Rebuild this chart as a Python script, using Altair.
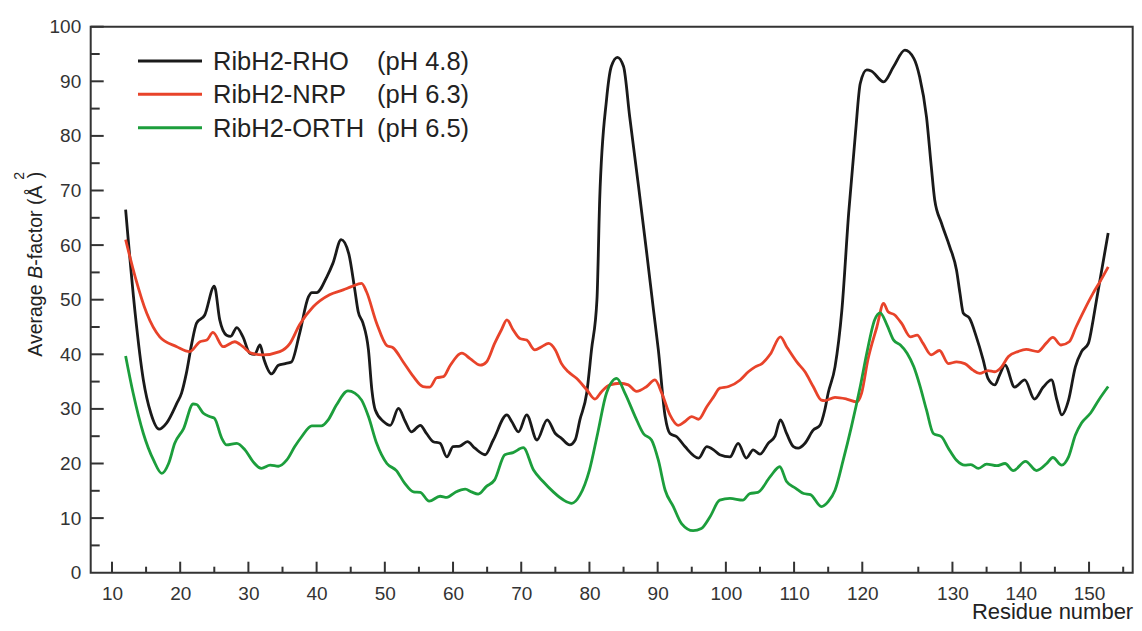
import altair as alt
import pandas as pd

FONT = "Liberation Sans"

series_names = ["RibH2-RHO", "RibH2-NRP", "RibH2-ORTH"]
series_ph = ["(pH 4.8)", "(pH 6.3)", "(pH 6.5)"]
series_colors = ["#1a1a1a", "#e8432a", "#1c9e3c"]

rho_x = [12, 13.4, 14.6, 15.7, 16.9, 18.0, 19.5, 20.2, 20.9, 21.7, 22.4, 23.6, 25.0, 25.8, 26.8,
         27.4, 28.3, 29.2, 30.2, 30.9, 31.7, 32.3, 33.4, 34.4, 35.4, 36.3, 37.5, 38.8, 39.3, 40.0,
         41.5, 42.4, 43.6, 44.7, 45.6, 46.1, 46.8, 47.6, 48.1, 48.6, 49.8, 50.8, 52.0, 53.0, 53.9,
         55.2, 56.1, 57.1, 58.1, 59.1, 60.0, 61.0, 62.1, 63.2, 64.7, 65.9, 67.9, 68.6, 69.6, 70.8,
         72.3, 73.8, 75.0, 75.9, 77.1, 77.9, 78.6, 79.6, 80.3, 81.1, 81.5, 82.5, 83.2, 84.1, 85.0,
         85.9, 87.2, 88.4, 89.4, 90.1, 91.1, 91.8, 92.8, 94.0, 96.0, 97.2, 98.2, 99.1, 100.6, 101.8,
         103.0, 104.0, 105.0, 106.2, 107.2, 108.0, 108.9, 109.9, 110.6, 111.6, 112.8, 113.8, 114.5,
         115.0, 116.0, 117.0, 118.0, 119.0, 119.7, 120.4, 120.8, 121.9, 122.8, 123.8, 124.6, 125.2,
         126.2, 126.9, 127.4, 128.4, 129.6, 130.6, 131.1, 131.6, 132.5, 133.5, 134.5, 135.2, 136.2,
         136.9, 137.7, 139.1, 140.6, 142.0, 143.3, 144.5, 145.3, 146.0, 147.0, 148.0, 148.9, 149.9,
         150.6, 151.1, 152.8]
rho_y = [66.5, 47.5, 35.3, 29.2, 26.3, 27.4, 31.0, 32.9, 36.5, 42.0, 45.7, 47.2, 52.5, 46.3, 43.5,
         43.3, 44.9, 43.2, 40.2, 40.0, 41.7, 39.0, 36.4, 38.0, 38.3, 38.6, 43.8, 50.5, 51.3, 51.3,
         54.2, 56.7, 61.0, 58.5, 51.8, 47.8, 45.7, 40.8, 33.5, 29.8, 27.7, 27.0, 30.1, 27.7, 25.8,
         27.0, 25.5, 24.0, 23.7, 21.2, 23.1, 23.2, 24.0, 22.8, 21.6, 24.3, 28.9, 27.7, 25.8, 28.9,
         24.3, 28.0, 25.5, 24.6, 23.4, 24.3, 28.0, 32.9, 40.8, 50.0, 68.3, 86.6, 92.7, 94.4, 92.7,
         83.5, 70.7, 58.5, 48.0, 40.8, 28.6, 25.5, 24.9, 23.1, 21.0, 23.1, 22.5, 21.6, 21.2, 23.7,
         21.0, 22.5, 21.7, 23.7, 25.0, 28.0, 25.5, 23.1, 22.8, 23.7, 26.1, 27.0, 29.8,
         32.9, 37.7, 48.0, 65.8, 80.5, 89.6, 92.1, 91.9, 89.9, 92.7, 95.7, 94.2, 90.8,
         83.5, 74.4, 68.3, 64.0, 59.7, 55.4, 51.2, 47.5, 46.6, 43.2, 39.0, 35.6, 34.4,
         36.2, 38.0, 34.0, 35.3, 31.8, 34.0, 35.3, 31.6, 28.9, 31.6, 37.7, 40.5, 42.0,
         46.3, 50.0, 62.2]

nrp_x = [12, 13.4, 15.1, 17.0, 19.5, 21.4, 22.9, 23.9, 24.8, 26.3, 28.0, 29.2, 30.4, 32.1, 34.6,
         36.1, 37.5, 39.5, 41.9, 43.9, 45.1, 46.6, 47.3, 48.8, 50.3, 51.2, 52.7, 54.2, 55.6, 56.6,
         57.6, 58.6, 59.6, 61.3, 62.5, 64.0, 64.9, 66.1, 67.1, 67.9, 68.8, 69.8, 70.8, 72.0, 73.0,
         74.0, 75.0, 75.9, 76.9, 78.1, 79.6, 80.8, 81.8, 83.0, 84.5, 85.7, 86.9, 88.4, 89.6, 90.6,
         91.8, 93.0, 94.0, 95.0, 96.0, 97.2, 98.2, 99.1, 100.4, 102.1, 103.3, 104.3, 105.3, 106.5,
         108.0, 108.9, 110.4, 111.6, 112.8, 114.0, 114.5, 116.0, 117.7, 119.2, 119.9, 120.5, 121.3,
         121.9, 122.3, 122.9, 123.5, 124.3, 124.9, 125.7, 126.9, 128.1, 129.4, 130.6, 131.8, 133.0,
         134.0, 135.2, 136.2, 137.2, 138.2, 139.6, 140.8, 142.5, 143.7, 144.7, 145.9, 147.1, 148.1,
         149.3, 150.6, 151.6, 152.8]
nrp_y = [61.0, 54.2, 47.5, 43.2, 41.4, 40.5, 42.3, 42.6, 44.0, 41.4, 42.3, 41.4, 40.2, 39.9, 40.5,
         42.0, 45.4, 48.7, 50.9, 51.8, 52.4, 53.0, 51.5, 45.7, 41.6, 41.2, 38.6, 35.9, 34.1, 34.0,
         35.7, 35.9, 38.0, 40.2, 39.2, 38.0, 38.6, 42.0, 44.5, 46.3, 44.5, 42.9, 42.6, 40.8, 41.4,
         42.0, 40.8, 38.3, 36.8, 35.6, 33.5, 31.8, 33.2, 34.4, 34.7, 34.4, 33.2, 34.1, 35.3, 32.9,
         28.9, 27.0, 27.7, 28.6, 28.1, 30.4, 32.2, 33.8, 34.1, 35.3, 36.8, 37.7, 38.3, 40.0,
         43.2, 41.4, 38.6, 36.8, 34.1, 31.6, 31.5, 32.1, 31.8, 31.3, 32.9, 39.0, 45.0,
         49.3, 47.8, 47.2, 45.7, 43.2, 43.5, 42.0, 39.9, 40.7, 38.3, 38.6, 38.3, 37.1,
         36.5, 37.0, 36.8, 37.7, 39.6, 40.5, 40.9, 40.5, 42.0, 43.1, 41.7, 42.3, 45.0,
         48.1, 51.2, 53.3, 56.0]

orth_x = [12, 13.1, 14.6, 16.1, 17.3, 18.3, 19.2, 20.5, 21.9, 22.4, 23.4, 24.3, 25.0, 26.1, 26.8,
          28.3, 29.5, 30.7, 31.9, 33.2, 34.4, 35.6, 36.8, 37.8, 39.3, 40.7, 41.7, 42.9, 44.6, 45.6,
          46.6, 47.6, 48.8, 50.3, 51.7, 52.9, 54.2, 55.2, 56.5, 58.1, 59.1, 60.3, 61.8, 62.7, 63.7,
          64.9, 66.1, 67.6, 68.8, 70.3, 71.8, 73.2, 74.7, 76.2, 77.4, 78.6, 80.0, 81.2, 82.5, 84.0,
          85.2, 86.7, 87.9, 89.1, 90.1, 91.1, 92.3, 93.5, 95.2, 96.4, 97.7, 99.1, 100.6, 102.5,
          103.5, 104.7, 106.5, 107.9, 108.9, 110.2, 111.4, 112.4, 114.0, 115.0, 116.0, 117.2, 118.4,
          119.7, 120.4, 121.1, 121.6, 122.2, 122.8, 123.4, 124.0, 124.6, 125.2, 126.2, 127.2, 128.4,
          129.4, 130.6, 131.8, 132.7, 133.8, 135.0, 136.5, 137.7, 138.9, 140.7, 142.3, 143.8, 144.7,
          146.0, 147.0, 148.0, 148.9, 150.2, 151.4, 152.8]
orth_y = [39.7, 32.9, 25.5, 20.6, 18.2, 20.0, 23.7, 26.4, 30.9, 30.8, 29.2, 28.6, 28.3, 24.6, 23.4,
          23.7, 22.5, 20.3, 19.1, 19.7, 19.5, 20.6, 23.1, 24.9, 26.9, 26.9, 28.0, 30.7, 33.3, 32.9,
          31.6, 28.6, 23.7, 20.0, 18.7, 16.4, 14.8, 14.7, 13.1, 14.0, 13.8, 14.7, 15.3, 14.8, 14.4,
          15.8, 17.0, 21.6, 22.0, 22.9, 18.8, 16.7, 14.8, 13.3, 12.7, 14.2, 18.8, 25.5, 32.9, 35.6,
          32.9, 28.6, 25.5, 24.3, 20.6, 15.1, 12.1, 9.0, 7.7, 8.1, 10.3, 13.3, 13.6, 13.3,
          14.5, 14.7, 17.6, 19.4, 16.7, 15.5, 14.5, 14.3, 12.1, 13.0, 15.1, 20.6, 26.7,
          34.1, 40.2, 46.3, 47.6, 45.4, 42.6, 41.7, 40.2, 37.7, 34.4, 29.8, 25.5, 24.9,
          22.8, 20.6, 19.7, 19.8, 19.1, 19.9, 19.6, 20.0, 18.7, 20.4, 18.7, 20.0, 21.1,
          19.7, 21.2, 25.2, 27.4, 29.2, 31.6, 34.1]

x_major = list(range(10, 151, 10))
x_minor = list(range(15, 156, 10))
y_major = list(range(10, 101, 10))
y_minor = list(range(5, 96, 10))

frames = []
for name, xs, ys in zip(series_names, [rho_x, nrp_x, orth_x], [rho_y, nrp_y, orth_y]):
    frames.append(pd.DataFrame({"res": xs, "b": ys, "series": name}))
df = pd.concat(frames, ignore_index=True)

W, H = 1042, 546
AX = "#333333"

xscale = alt.Scale(domain=[6.88, 120, 125, 156.39], range=[0, 771.6, 827.6, W], nice=False, zero=False)
yscale = alt.Scale(domain=[0, 100], nice=False, zero=False)

lines = alt.Chart(df).mark_line(interpolate="monotone", strokeWidth=2.8).encode(
    x=alt.X("res:Q", scale=xscale,
            axis=alt.Axis(values=x_major, ticks=False, domain=False, grid=False, title=None,
                          labelFontSize=19, labelPadding=11.5, labelColor=AX, labelFont=FONT)),
    y=alt.Y("b:Q", scale=yscale,
            axis=alt.Axis(values=[0] + y_major, ticks=False, domain=False, grid=False, title=None,
                          labelFontSize=19, labelPadding=10, labelColor=AX, labelFont=FONT)),
    color=alt.Color("series:N", scale=alt.Scale(domain=series_names, range=series_colors), legend=None),
)

def xticks(vals, length):
    return alt.Chart(pd.DataFrame({"res": vals})).mark_rule(color=AX, strokeWidth=2).encode(
        x=alt.X("res:Q", scale=xscale), y=alt.value(H), y2=alt.value(H - length))

def yticks(vals, length):
    return alt.Chart(pd.DataFrame({"b": vals})).mark_rule(color=AX, strokeWidth=2).encode(
        y=alt.Y("b:Q", scale=yscale), x=alt.value(0), x2=alt.value(length))

def text(txt, x, y, size, align="left", baseline="alphabetic", angle=0, italic=False, color="#222222"):
    kw = dict(align=align, baseline=baseline, fontSize=size, font=FONT, color=color)
    if angle:
        kw["angle"] = angle
    if italic:
        kw["fontStyle"] = "italic"
    return alt.Chart(pd.DataFrame({"t": [txt]})).mark_text(**kw).encode(
        text="t:N", x=alt.value(x), y=alt.value(y))

layers = [lines, xticks(x_major, 11), xticks(x_minor, 6), yticks(y_major, 13), yticks(y_minor, 9)]

# legend
row_y = [34.3, 67.6, 101.0]
for name, ph, col, ry in zip(series_names, series_ph, series_colors, row_y):
    layers.append(
        alt.Chart(pd.DataFrame({"series": [name]})).mark_rule(color=col, strokeWidth=3).encode(
            x=alt.value(47.3), x2=alt.value(111.3), y=alt.value(ry)))
    layers.append(text(name, 122.3, ry + 9, 25.5))
    layers.append(text(ph, 286.3, ry + 9, 25.5))

# y title: Average B-factor (Å²)
ty = 19.5
layers += [
    text("Average ", -49, 330, ty, angle=270),
    text("B", -49, 252, ty, angle=270, italic=True),
    text("-factor (Å", -49, 239, ty, angle=270),
    text("2", -67, 153, 14, angle=270),
    text(")", -49, 151.5, ty, angle=270),
]

# x title
layers.append(text("Residue number", W + 0.5, 592.5, 22, align="right"))

chart = alt.layer(*layers).properties(
    width=W, height=H,
    autosize=alt.AutoSizeParams(type="none"),
    padding={"left": 82.7, "top": 18.7, "right": 1.2, "bottom": 49.8},
    background="white",
).configure_view(stroke=AX, strokeWidth=2)

chart.save("out.html", embed_options={"renderer": "svg", "actions": False})
